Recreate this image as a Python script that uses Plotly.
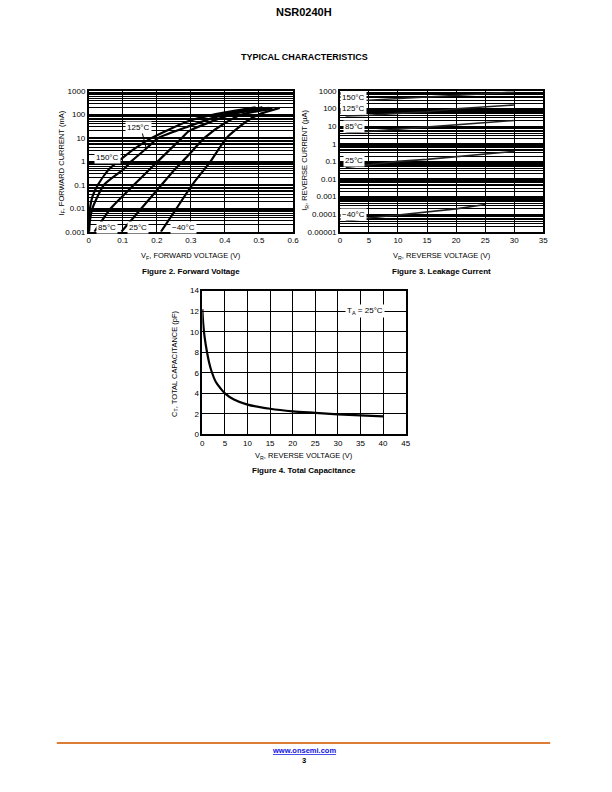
import math
import plotly.graph_objects as go

FONT = "Liberation Sans"

# ---------------- Figure 2: forward voltage (V) vs forward current (mA)
f150_v = [0.0004, 0.0012, 0.0038, 0.0105, 0.027, 0.060, 0.092, 0.135, 0.185, 0.290, 0.370, 0.490]
f150_i = [0.001, 0.003, 0.01, 0.03, 0.1, 0.47, 1.15, 3.5, 10, 50, 100, 200]
f125_v = [0.0013, 0.0036, 0.011, 0.045, 0.103, 0.125, 0.170, 0.205, 0.293, 0.400, 0.510]
f125_i = [0.001, 0.003, 0.01, 0.1, 0.47, 1, 3.6, 10, 31, 100, 200]
f85_v = [0.017, 0.065, 0.133, 0.180, 0.203, 0.274, 0.293, 0.420, 0.530]
f85_i = [0.001, 0.01, 0.1, 0.47, 1, 10, 19, 100, 190]
f25_v = [0.096, 0.155, 0.214, 0.254, 0.290, 0.340, 0.400, 0.450, 0.540]
f25_i = [0.001, 0.01, 0.1, 0.47, 1.66, 10, 43, 100, 176]
fm40_v = [0.212, 0.258, 0.304, 0.358, 0.405, 0.463, 0.500, 0.561]
fm40_i = [0.001, 0.01, 0.1, 1, 10, 50, 100, 190]
lead125_v = [0.157, 0.168]
lead125_i = [17, 4.0]

f_xticks = [0, 0.1, 0.2, 0.3, 0.4, 0.5, 0.6]
f_xtext = ["0", "0.1", "0.2", "0.3", "0.4", "0.5", "0.6"]
f_decades = [0.001, 0.01, 0.1, 1, 10, 100, 1000]
f_dectext = ["0.001", "0.01", "0.1", "1", "10", "100", "1000"]

f_lab_text = ["150°C", "125°C", "85°C", "25°C", "−40°C"]
f_lab_v = [0.054, 0.146, 0.054, 0.146, 0.278]
f_lab_i = [1.4, 27, 0.00145, 0.00145, 0.00145]

# ---------------- Figure 3: reverse voltage (V) vs reverse current (uA)
r_v = [1, 5, 10, 15, 20, 25, 30]
r150 = [250, 300, 370, 450, 560, 690, 850]
r125 = [38, 42, 53, 66, 97, 125, 160]
r85 = [4.0, 5.0, 6.8, 8.8, 11.5, 15, 21]
r25 = [0.045, 0.065, 0.10, 0.13, 0.18, 0.25, 0.37]
rm40_v = [1, 5, 10, 15, 20, 25]
rm40 = [0.00004, 0.00006, 0.00009, 0.00013, 0.0002, 0.00035]

r_xticks = [0, 5, 10, 15, 20, 25, 30, 35]
r_decades = [0.00001, 0.0001, 0.001, 0.01, 0.1, 1, 10, 100, 1000]
r_dectext = ["0.00001", "0.0001", "0.001", "0.01", "0.1", "1", "10", "100", "1000"]

r_lab_text = ["150°C", "125°C", "85°C", "25°C", "−40°C"]
r_lab_v = [2.4, 2.4, 2.4, 2.4, 2.4]
r_lab_i = [440, 100, 9.5, 0.11, 0.0001]

# ---------------- Figure 4: capacitance
cap_v = [0, 0.2, 0.5, 1, 1.5, 2, 3, 4, 5, 7, 10, 15, 20, 25, 30, 35, 40]
cap_c = [12.2, 10.8, 9.5, 8.1, 7.0, 6.2, 5.1, 4.5, 4.0, 3.4, 2.9, 2.5, 2.25, 2.1, 1.95, 1.85, 1.75]
c_xticks = [0, 5, 10, 15, 20, 25, 30, 35, 40, 45]
c_yticks = [0, 2, 4, 6, 8, 10, 12, 14]

# page placement (body margin removed by post_script; slight spread about page centre)
W, H = 612, 792
SPREAD = 1.01


def px(x):
    x = 306 + (x - 306) * SPREAD
    return x / W


def py(y):
    y = 396 + (y - 396) * SPREAD
    return 1 - y / H


def minor_vals(decades):
    vals = []
    for d in decades[:-1]:
        for k in range(2, 10):
            vals.append(d * k)
    return vals


fig = go.Figure()

for v, i in [(f150_v, f150_i), (f125_v, f125_i), (f85_v, f85_i), (f25_v, f25_i), (fm40_v, fm40_i)]:
    fig.add_trace(go.Scatter(x=v, y=i, mode="lines",
                             line=dict(color="black", width=2.2, shape="spline", smoothing=0.6),
                             xaxis="x", yaxis="y", showlegend=False, hoverinfo="skip"))
fig.add_trace(go.Scatter(x=lead125_v, y=lead125_i, mode="lines", line=dict(color="black", width=1),
                         xaxis="x", yaxis="y", showlegend=False, hoverinfo="skip"))

for v, i in [(r_v, r150), (r_v, r125), (r_v, r85), (r_v, r25), (rm40_v, rm40)]:
    fig.add_trace(go.Scatter(x=v, y=i, mode="lines", line=dict(color="#222", width=1.6),
                             xaxis="x2", yaxis="y2", showlegend=False, hoverinfo="skip"))

fig.add_trace(go.Scatter(x=cap_v, y=cap_c, mode="lines",
                         line=dict(color="black", width=2.2, shape="spline", smoothing=0.8),
                         xaxis="x3", yaxis="y3", showlegend=False, hoverinfo="skip"))

grid = dict(showgrid=True, gridcolor="black", gridwidth=1, showline=True, linecolor="black",
            linewidth=1.5, mirror=True, ticks="", zeroline=False,
            tickfont=dict(family=FONT, size=8, color="black"))
minor_style = dict(showgrid=True, gridcolor="black", gridwidth=1, ticks="")

fig.update_layout(
    width=W, height=H, margin=dict(l=0, r=0, t=0, b=0),
    paper_bgcolor="white", plot_bgcolor="white",
    font=dict(family=FONT, color="black"),
    xaxis=dict(domain=[px(90), px(295)], anchor="y", range=[0, 0.6],
               tickvals=f_xticks, ticktext=f_xtext, **grid),
    yaxis=dict(domain=[py(232), py(91)], anchor="x", type="log", range=[-3, 3],
               tickvals=f_decades, ticktext=f_dectext,
               minor=dict(tickvals=minor_vals(f_decades), **minor_style), **grid),
    xaxis2=dict(domain=[px(342), px(546)], anchor="y2", range=[0, 35],
                tickvals=r_xticks, **grid),
    yaxis2=dict(domain=[py(232), py(91)], anchor="x2", type="log", range=[-5, 3],
                tickvals=r_decades, ticktext=r_dectext,
                minor=dict(tickvals=minor_vals(r_decades), **minor_style), **grid),
    xaxis3=dict(domain=[px(204), px(408)], anchor="y3", range=[0, 45],
                tickvals=c_xticks, **grid),
    yaxis3=dict(domain=[py(435), py(291)], anchor="x3", range=[0, 14],
                tickvals=c_yticks, **grid),
)

ann = []


def txt(x, y, text, size=7.5, angle=0, color="black"):
    ann.append(dict(x=px(x), y=py(y), xref="paper", yref="paper", text=text, showarrow=False,
                    textangle=angle, font=dict(family=FONT, size=size, color=color),
                    xanchor="center", yanchor="middle"))


txt(306, 12, "<b>NSR0240H</b>", size=11)
txt(306, 57, "<b>TYPICAL CHARACTERISTICS</b>", size=9)

txt(192.5, 256, "V<sub>F</sub>, FORWARD VOLTAGE (V)")
txt(192.5, 272, "<b>Figure 2. Forward Voltage</b>", size=8)
txt(63, 163, "I<sub>F</sub>, FORWARD CURRENT (mA)", angle=-90)

txt(444, 256, "V<sub>R</sub>, REVERSE VOLTAGE (V)")
txt(444, 272, "<b>Figure 3. Leakage Current</b>", size=8)
txt(307, 160, "I<sub>R</sub>, REVERSE CURRENT (µA)", angle=-90)

txt(306, 457, "V<sub>R</sub>, REVERSE VOLTAGE (V)")
txt(306, 471, "<b>Figure 4. Total Capacitance</b>", size=8)
txt(176, 364, "C<sub>T</sub>, TOTAL CAPACITANCE (pF)", angle=-90)

txt(306, 752, "<b><u>www.onsemi.com</u></b>", size=7.5, color="#1010E0")
txt(306, 762, "<b>3</b>", size=7.5)

for t, v, i in zip(f_lab_text, f_lab_v, f_lab_i):
    ann.append(dict(x=v, y=math.log10(i), xref="x", yref="y", text=t, showarrow=False,
                    bgcolor="white", borderpad=1, font=dict(family=FONT, size=8, color="black")))
for t, v, i in zip(r_lab_text, r_lab_v, r_lab_i):
    ann.append(dict(x=v, y=math.log10(i), xref="x2", yref="y2", text=t, showarrow=False,
                    bgcolor="white", borderpad=1, font=dict(family=FONT, size=8, color="black")))
ann.append(dict(x=36, y=12, xref="x3", yref="y3", text="T<sub>A</sub> = 25°C", showarrow=False,
                bgcolor="white", borderpad=1, font=dict(family=FONT, size=8, color="black")))

fig.update_layout(annotations=ann)
fig.add_shape(type="line", xref="paper", yref="paper", x0=px(58), x1=px(553),
              y0=py(744), y1=py(744), line=dict(color="#DD7D35", width=2))

fig.write_html("out.html", config={"displayModeBar": False},
               post_script="document.body.style.margin='0px';")
